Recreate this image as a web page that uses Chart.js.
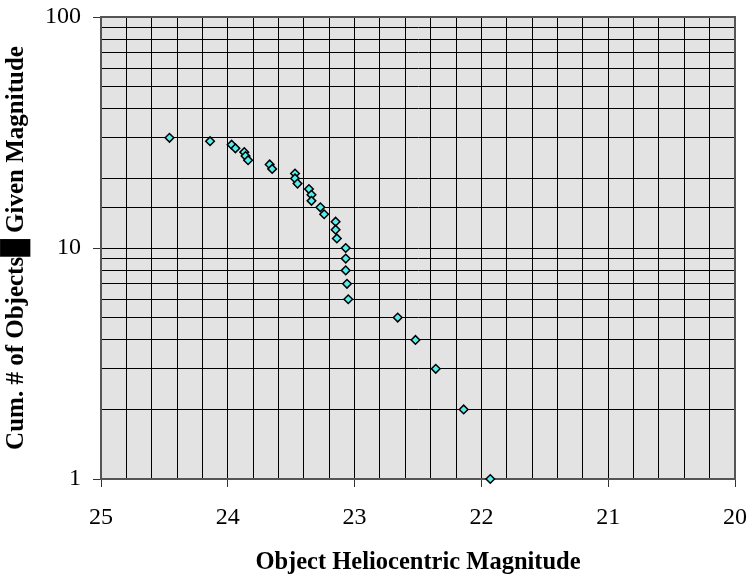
<!DOCTYPE html>
<html>
<head>
<meta charset="utf-8">
<script src="https://cdn.jsdelivr.net/npm/chart.js@4"></script>
<style>
  html, body { margin: 0; padding: 0; background: #fff; }
</style>
</head>
<body>
<canvas id="chart" width="750" height="581"></canvas>
<script>
// magnitudes, cumulative counts 30 -> 1
const magnitudes = [24.46, 24.14, 23.97, 23.94, 23.87, 23.86, 23.84, 23.67, 23.65, 23.47,
                    23.47, 23.45, 23.36, 23.34, 23.34, 23.27, 23.24, 23.15, 23.15, 23.14,
                    23.07, 23.07, 23.07, 23.06, 23.05, 22.66, 22.52, 22.36, 22.14, 21.93];
const counts = [30, 29, 28, 27, 26, 25, 24, 23, 22, 21,
                20, 19, 18, 17, 16, 15, 14, 13, 12, 11,
                10, 9, 8, 7, 6, 5, 4, 3, 2, 1];
const yLabels = [1, 10, 100];
const xTitle = "Object Heliocentric Magnitude";
const yTitle = "Cum. # of Objects\u2588 Given Magnitude";

const points = magnitudes.map((m, i) => ({ x: m, y: counts[i] }));

const isWhole = v => Math.abs(v - Math.round(v)) < 1e-6;

// grey plot background + frame
const plotFrame = {
  id: "plotFrame",
  beforeDraw(chart) {
    const { ctx, chartArea: a } = chart;
    ctx.save();
    ctx.fillStyle = "#e3e3e3";
    ctx.fillRect(a.left, a.top, a.right - a.left, a.bottom - a.top);
    ctx.restore();
  },
  beforeDatasetsDraw(chart) {
    const { ctx, chartArea: a } = chart;
    ctx.save();
    ctx.strokeStyle = "#555";
    ctx.lineWidth = 2;
    ctx.strokeRect(a.left, a.top, a.right - a.left, a.bottom - a.top);
    ctx.restore();
  }
};

new Chart(document.getElementById("chart"), {
  type: "scatter",
  data: {
    datasets: [{
      data: points,
      pointStyle: "rectRot",
      pointRadius: 4.3,
      pointBorderWidth: 1.5,
      pointBackgroundColor: "#55eeee",
      pointBorderColor: "#000",
      clip: false
    }]
  },
  options: {
    responsive: false,
    animation: false,
    layout: { padding: { top: 17, right: 15, left: 0, bottom: 0 } },
    plugins: { legend: { display: false }, tooltip: { enabled: false } },
    scales: {
      x: {
        type: "linear",
        min: 20,
        max: 25,
        reverse: true,
        afterFit: s => { s.height = 102; s.paddingLeft = 0; s.paddingRight = 0; },
        border: { color: "#555", width: 2 },
        grid: {
          color: "#000",
          lineWidth: 1,
          tickLength: 8,
          tickColor: c => (c.tick && isWhole(c.tick.value)) ? "#333" : "rgba(0,0,0,0)"
        },
        ticks: {
          stepSize: 0.2,
          autoSkip: false,
          maxRotation: 0,
          padding: 16,
          color: "#000",
          font: { family: "Liberation Serif", size: 24 },
          callback: v => isWhole(v) ? String(Math.round(v)) : ""
        },
        title: {
          display: true,
          text: xTitle,
          color: "#000",
          padding: { top: 4, bottom: 4 },
          font: { family: "Liberation Serif", size: 24.5, weight: "bold" }
        }
      },
      y: {
        type: "logarithmic",
        min: 1,
        max: 100,
        afterFit: s => { s.width = 101; s.paddingTop = 0; s.paddingBottom = 0; },
        border: { color: "#555", width: 2 },
        grid: {
          color: "#000",
          lineWidth: 1,
          tickLength: 8,
          tickColor: c => (c.tick && yLabels.includes(c.tick.value)) ? "#333" : "rgba(0,0,0,0)"
        },
        ticks: {
          autoSkip: false,
          padding: 12,
          color: "#000",
          font: { family: "Liberation Serif", size: 24 },
          callback: v => yLabels.includes(v) ? String(v) : ""
        },
        title: {
          display: true,
          text: yTitle,
          color: "#000",
          padding: { top: 2, bottom: 2 },
          font: { family: "Liberation Serif", size: 25, weight: "bold" }
        }
      }
    }
  },
  plugins: [plotFrame]
});
</script>
</body>
</html>
